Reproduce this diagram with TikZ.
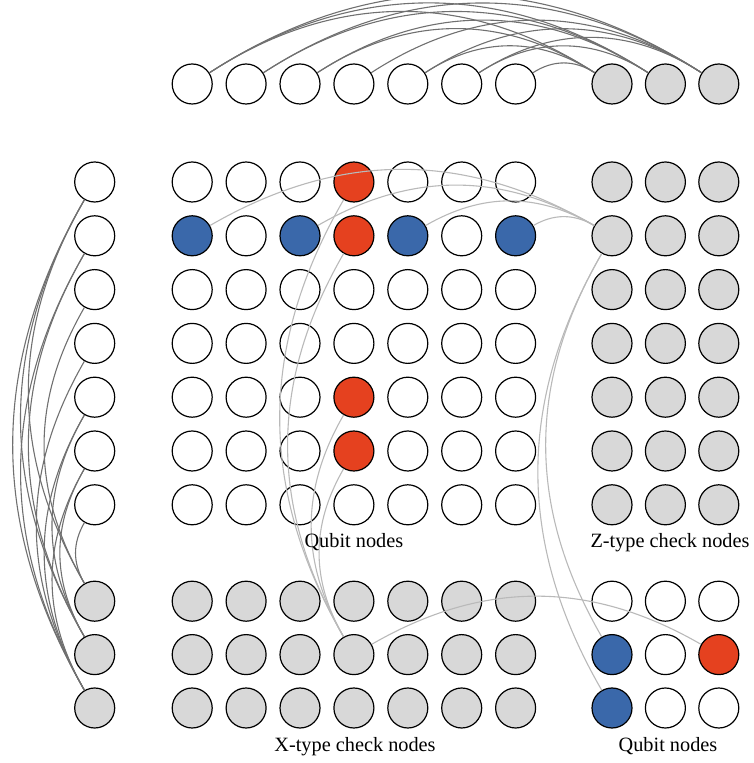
\documentclass[tikz,border=0pt]{standalone}
\usepackage{fontspec}
\setmainfont{Liberation Serif}
\definecolor{qblue}{RGB}{58,104,170}
\definecolor{qred}{RGB}{229,65,31}
\definecolor{ckgray}{RGB}{216,216,216}
\definecolor{edgedark}{RGB}{112,112,112}
\definecolor{edgelight}{RGB}{185,185,185}
\newcommand\qrow[2]{%
  \foreach \col [count=\c] in {#2} {
    \pgfmathsetmacro\xx{192.2+53.9*(\c-1)}
    \pgfmathsetmacro\yy{581-53.8*(#1-1)}
    \node[qn,fill=\col] (q-#1-\c) at (\xx,\yy) {};
  }}
\begin{document}
\begin{tikzpicture}[x=1pt,y=1pt,
  qn/.style={circle,draw=black,line width=1.2pt,minimum size=40pt,inner sep=0pt,fill=white},
  ck/.style={qn,fill=ckgray},
  cedge/.style={draw=edgedark,line width=1.1pt},
  pedge/.style={draw=edgelight,line width=1.1pt},
  lab/.style={font=\fontsize{20.3}{24}\selectfont,anchor=base,inner sep=0pt}]
\useasboundingbox (0,0) rectangle (753,763);
% top row: classical bits and checks
\foreach \c in {1,...,7} {
  \pgfmathsetmacro\xx{192.2+53.9*(\c-1)}
  \node[qn] (t-\c) at (\xx,679) {};
}
\foreach \j/\xx in {1/612,2/665.4,3/718.8} {
  \node[ck] (tc-\j) at (\xx,679) {};
}
% left column: classical bits and checks
\foreach \r in {1,...,7} {
  \pgfmathsetmacro\yy{581-53.8*(\r-1)}
  \node[qn] (l-\r) at (94.7,\yy) {};
}
\foreach \i/\yy in {1/161.8,2/108.4,3/55} {
  \node[ck] (lc-\i) at (94.7,\yy) {};
}
% main qubit grid
\qrow{1}{white,white,white,qred,white,white,white}
\qrow{2}{qblue,white,qblue,qred,qblue,white,qblue}
\qrow{3}{white,white,white,white,white,white,white}
\qrow{4}{white,white,white,white,white,white,white}
\qrow{5}{white,white,white,qred,white,white,white}
\qrow{6}{white,white,white,qred,white,white,white}
\qrow{7}{white,white,white,white,white,white,white}
% Z-type checks
\foreach \r in {1,...,7} {
  \pgfmathsetmacro\yy{581-53.8*(\r-1)}
  \foreach \j/\xx in {1/612,2/665.4,3/718.8} {
    \node[ck] (z-\r-\j) at (\xx,\yy) {};
  }
}
% X-type checks
\foreach \c in {1,...,7} {
  \pgfmathsetmacro\xx{192.2+53.9*(\c-1)}
  \foreach \i/\yy in {1/161.8,2/108.4,3/55} {
    \node[ck] (x-\i-\c) at (\xx,\yy) {};
  }
}
% bottom-right qubits
\node[qn] (b-1-1) at (612,161.8) {};
\node[qn] (b-1-2) at (665.4,161.8) {};
\node[qn] (b-1-3) at (718.8,161.8) {};
\node[qn,fill=qblue] (b-2-1) at (612,108.4) {};
\node[qn] (b-2-2) at (665.4,108.4) {};
\node[qn,fill=qred] (b-2-3) at (718.8,108.4) {};
\node[qn,fill=qblue] (b-3-1) at (612,55) {};
\node[qn] (b-3-2) at (665.4,55) {};
\node[qn] (b-3-3) at (718.8,55) {};
% classical Tanner graph edges
\foreach \b/\j in {1/1,3/1,5/1,7/1,1/2,2/2,3/2,6/2,1/3,2/3,4/3,5/3,6/3}
  \draw[cedge] (t-\b) to[bend left=33] (tc-\j);
\foreach \b/\i in {1/1,3/1,7/1,1/2,2/2,5/2,6/2,1/3,2/3,4/3,5/3,6/3}
  \draw[cedge] (l-\b) to[bend right=30] (lc-\i);
% product code edges
\foreach \c in {1,3,5,7}
  \draw[pedge] (q-2-\c) to[bend left=30] (z-2-1);
\foreach \i in {2,3}
  \draw[pedge] (b-\i-1) to[bend left=30] (z-2-1);
\foreach \r in {1,2,5,6}
  \draw[pedge] (x-2-4) to[bend left=30] (q-\r-4);
\draw[pedge] (x-2-4) to[bend left=30] (b-2-3);
% labels
\node[lab] (lq) at (353.9,215) {Qubit nodes};
\node[lab] (lz) at (670,215) {Z-type check nodes};
\node[lab] (lx) at (355,12) {X-type check nodes};
\node[lab] (lb) at (668,12) {Qubit nodes};
\end{tikzpicture}
\end{document}
